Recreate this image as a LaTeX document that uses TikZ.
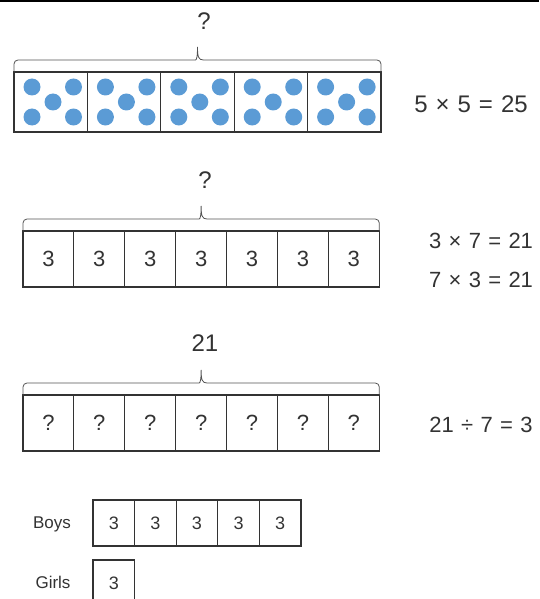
\documentclass[tikz,border=0pt]{standalone}
\usepackage{fontspec}
\setmainfont{Liberation Sans}
\usepackage{tikz}
\usetikzlibrary{positioning, calc}
\definecolor{dotblue}{HTML}{5B9BD5}
\definecolor{inkgray}{HTML}{333333}

\begin{document}
\begin{tikzpicture}[x=1pt, y=-1pt,
    every node/.style={text=inkgray},
    dotbox/.style={draw=inkgray, line width=1.1pt, minimum width=73.4pt, minimum height=60pt, inner sep=0pt, outer sep=0pt},
    numbox/.style={draw=inkgray, line width=1.1pt, minimum width=50.9pt, minimum height=56pt, inner sep=0pt, outer sep=0pt, font=\fontsize{22}{22}\selectfont},
    smallbox/.style={draw=inkgray, line width=1.1pt, minimum width=41.6pt, minimum height=46pt, inner sep=0pt, outer sep=0pt, font=\fontsize{18}{18}\selectfont},
    dot/.style={circle, fill=dotblue, minimum size=17pt, inner sep=0pt},
    bracestyle/.style={draw=inkgray!85, line width=0.8pt},
    eqtext/.style={font=\fontsize{22}{22}\selectfont},
    bigtext/.style={font=\fontsize{24}{24}\selectfont},
    nametext/.style={font=\fontsize{17}{17}\selectfont},
  ]
  \useasboundingbox (0,0) rectangle (539,599);
  \clip (0,0) rectangle (539,599);
  \fill[black] (0,0) rectangle (539,2.3);

  % dot bar
  \node[dotbox] (a1) at (50.7,102) {};
  \foreach \i [count=\j from 2] in {1,...,4}
    \node[dotbox, right=0pt of a\i] (a\j) {};
  \foreach \i in {1,...,5} {
    \node[dot] (dot\i a) at ($(a\i.west)+(18,-15)$) {};
    \node[dot] (dot\i b) at ($(a\i.west)+(59.5,-15)$) {};
    \node[dot] (dot\i c) at ($(a\i.west)+(39,0)$) {};
    \node[dot] (dot\i d) at ($(a\i.west)+(18,15)$) {};
    \node[dot] (dot\i e) at ($(a\i.west)+(59.5,15)$) {};
  }

  % groups of three
  \node[numbox] (b1) at (48.45,259) {3};
  \foreach \i [count=\j from 2] in {1,...,6}
    \node[numbox, right=0pt of b\i] (b\j) {3};

  % unknown groups
  \node[numbox] (c1) at (48.45,423) {?};
  \foreach \i [count=\j from 2] in {1,...,6}
    \node[numbox, right=0pt of c\i] (c\j) {?};

  % braces over the bars
  \foreach \l/\r/\t in {a1/a5/ta, b1/b7/tb, c1/c7/tc}
    \draw[bracestyle] let \p1=(\l.north west), \p2=(\r.north east), \n1={(\x1+\x2)/2} in
      [rounded corners=4pt] (\x1,\y1) -- (\x1,\y1+12pt) -- (\n1-6pt,\y1+12pt)
      [sharp corners] .. controls (\n1-1pt,\y1+12pt) and (\n1,\y1+15pt) .. (\n1,\y1+25pt)
      coordinate (\t)
      .. controls (\n1,\y1+15pt) and (\n1+1pt,\y1+12pt) .. (\n1+6pt,\y1+12pt)
      [rounded corners=4pt] -- (\x2,\y1+12pt) -- (\x2,\y2);

  \node[bigtext] (qa) at (204,21) {?};
  \node[bigtext] (qb) at (205,180) {?};
  \node[bigtext] (qc) at (205,343) {21};

  % equations
  \node[bigtext] (ea) at (471,104) {5\,\,×\,\,5\,\,=\,\,25};
  \node[eqtext] (eb) at (481,240.5) {3\,\,×\,\,7\,\,=\,\,21};
  \node[eqtext] (ec) at (481,280) {7\,\,×\,\,3\,\,=\,\,21};
  \node[eqtext] (ed) at (481,425) {21\,\,÷\,\,7\,\,=\,\,3};

  % boys and girls
  \node[smallbox] (boy1) at (113.8,523) {3};
  \foreach \i [count=\j from 2] in {1,...,4}
    \node[smallbox, right=0pt of boy\i] (boy\j) {3};
  \node[smallbox] (girl1) at (113.8,583) {3};
  \node[nametext] (boys) at (52,524) {Boys};
  \node[nametext] (girls) at (53,582) {Girls};
\end{tikzpicture}
\end{document}
